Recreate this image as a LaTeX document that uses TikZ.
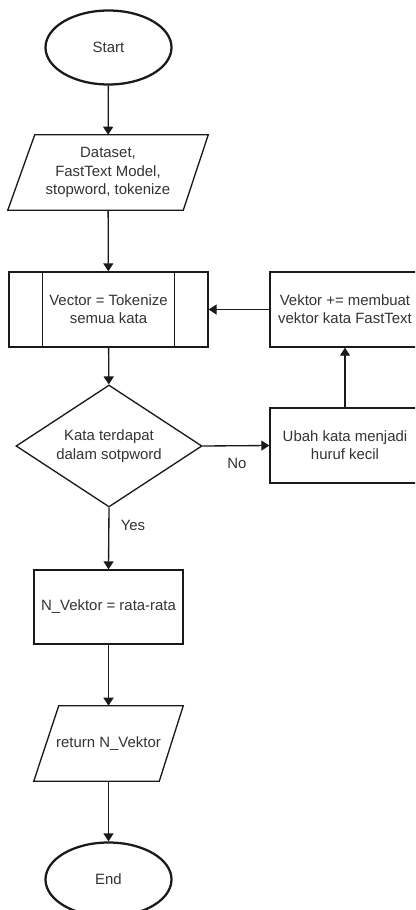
\documentclass[tikz,border=0pt]{standalone}
\usepackage{fontspec}
\setmainfont{Liberation Sans}
\usetikzlibrary{arrows.meta,shapes.geometric,calc}

\definecolor{ink}{HTML}{1A1A1A}
\definecolor{txt}{HTML}{333333}

\tikzset{
  base/.style={font=\fontsize{11.2}{13.7}\selectfont, text=txt, align=center, inner sep=0pt},
  terminal/.style={base, ellipse, draw=ink, line width=1.7pt, minimum width=126*0.75pt, minimum height=74*0.75pt},
  procbox/.style={base, rectangle, draw=ink, line width=1pt},
  ioarea/.style={base, rectangle},
  decide/.style={base, diamond, draw=ink, line width=1pt, minimum width=186*0.75pt, minimum height=122*0.75pt, aspect=1.5},
  outline/.style={draw=ink, line width=1pt},
  flow/.style={draw=ink, line width=1pt, -{Triangle[length=6pt,width=7.5pt]}},
  lbl/.style={base}
}

\begin{document}
\begin{tikzpicture}[x=0.75pt,y=-0.75pt]
  \useasboundingbox (0,0) rectangle (415,910);
  \clip (0,0) rectangle (415,910);
  \fill[white] (0,0) rectangle (415,910);

  % start / end terminals
  \node[terminal] (start) at (108.5,47.5) {Start};

  % input parallelogram
  \node[ioarea, minimum width=200*0.75pt, minimum height=75*0.75pt] (input) at (108,172.5)
    {Dataset,\\FastText Model,\\stopword, tokenize};
  \draw[outline] ($(input.north west)+(27,0)$) -- (input.north east)
    -- ($(input.south east)+(-25,0)$) -- (input.south west) -- cycle;

  % predefined process
  \node[procbox, minimum width=199*0.75pt, minimum height=75*0.75pt] (vec) at (108.5,309.5)
    {Vector = Tokenize\\semua kata};
  \draw[outline] ($(vec.north west)+(34,0)$) -- ($(vec.south west)+(34,0)$);
  \draw[outline] ($(vec.north east)+(-34,0)$) -- ($(vec.south east)+(-34,0)$);

  % decision
  \node[decide] (dec) at (109,446) {Kata terdapat\\dalam sotpword};

  % right column
  \node[procbox, minimum width=150*0.75pt, minimum height=75*0.75pt] (add) at (345,309.5)
    {Vektor += membuat\\vektor kata FastText};
  \node[procbox, minimum width=150*0.75pt, minimum height=75*0.75pt] (lower) at (345,445.5)
    {Ubah kata menjadi\\huruf kecil};

  % average
  \node[procbox, minimum width=149*0.75pt, minimum height=74*0.75pt] (avg) at (108.5,607)
    {N\_Vektor = rata-rata};

  % output parallelogram
  \node[ioarea, minimum width=149*0.75pt, minimum height=75*0.75pt] (out) at (108.5,743.5)
    {return N\_Vektor};
  \draw[outline] ($(out.north west)+(25,0)$) -- (out.north east)
    -- ($(out.south east)+(-24,0)$) -- (out.south west) -- cycle;

  \node[terminal] (end) at (108.5,879.5) {End};

  % connectors
  \draw[flow] (start) -- (input);
  \draw[flow] (input) -- (vec);
  \draw[flow] (vec) -- (dec);
  \draw[flow] (dec.east) -- (lower.west);
  \draw[flow] (lower) -- (add);
  \draw[flow] (add.west) -- (vec.east);
  \draw[flow] (dec.south) -- (avg.north);
  \draw[flow] (avg) -- (out);
  \draw[flow] (out) -- (end);

  % branch labels
  \node[lbl] (no) at (237,463) {No};
  \node[lbl] (yes) at (133,525) {Yes};
\end{tikzpicture}
\end{document}
